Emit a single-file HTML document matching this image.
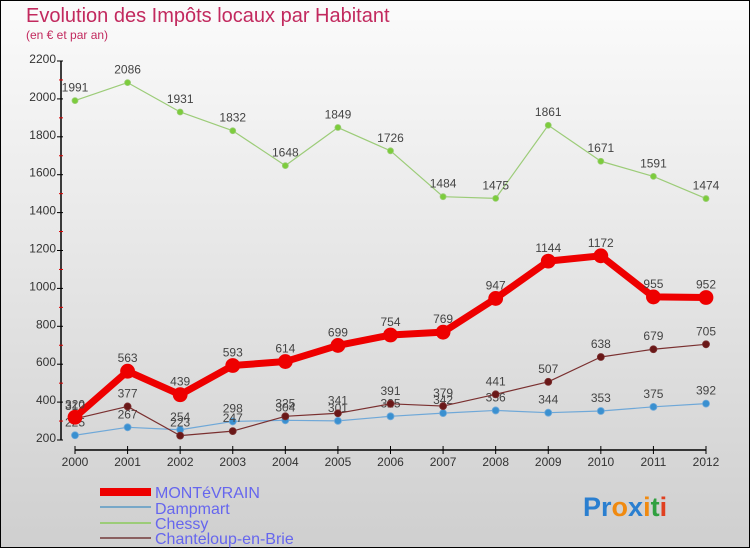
<!DOCTYPE html>
<html><head><meta charset="utf-8"><style>
body{margin:0;width:750px;height:550px;overflow:hidden;font-family:"Liberation Sans",sans-serif}
svg text{font-family:"Liberation Sans",sans-serif}
</style></head><body>
<svg id="c" width="750" height="550">
<defs><linearGradient id="bg" x1="0" y1="0" x2="0" y2="1"><stop offset="0" stop-color="#fbfbfb"/><stop offset="1" stop-color="#cfcfcf"/></linearGradient></defs>
<rect x="0.5" y="0.5" width="749" height="547" fill="url(#bg)" stroke="#000"/>
<text x="26" y="22" font-size="20" fill="#c2295e">Evolution des Impôts locaux par Habitant</text>
<text x="26" y="39" font-size="12" fill="#c2295e">(en € et par an)</text>
<g id="axes"></g><g id="series"></g>
<g>
<rect x="100" y="488" width="51" height="8" fill="#e00"/>
<rect x="100" y="506" width="51" height="2" fill="#78a8c8"/>
<rect x="100" y="522" width="51" height="2" fill="#9ccc78"/>
<rect x="100" y="537" width="51" height="2" fill="#8a6060"/>
<text x="155" y="498" font-size="16" fill="#6666ee">MONTéVRAIN</text>
<text x="155" y="514" font-size="16" fill="#6666ee">Dampmart</text>
<text x="155" y="529" font-size="16" fill="#6666ee">Chessy</text>
<text x="155" y="544" font-size="16" fill="#6666ee">Chanteloup-en-Brie</text>
</g>
<g font-size="27" font-weight="bold">
<text x="583" y="516"><tspan fill="#2a7fd0">Pr</tspan><tspan fill="#f08a10">o</tspan><tspan fill="#2a7fd0">x</tspan><tspan fill="#f08a10">i</tspan><tspan fill="#30a040">t</tspan><tspan fill="#e04020">i</tspan></text>
</g>
</svg>
<script>
const years=[2000,2001,2002,2003,2004,2005,2006,2007,2008,2009,2010,2011,2012];
const yTicks=[200,400,600,800,1000,1200,1400,1600,1800,2000,2200];
const montevrain=[320,563,439,593,614,699,754,769,947,1144,1172,955,952];
const dampmart=[225,267,254,298,304,301,325,342,356,344,353,375,392];
const chessy=[1991,2086,1931,1832,1648,1849,1726,1484,1475,1861,1671,1591,1474];
const chanteloup=[312,377,223,247,325,341,391,379,441,507,638,679,705];
const NS="http://www.w3.org/2000/svg";
const X=i=>75+i*(706-75)/12;
const Y=v=>440-(v-200)*(440-61)/2000;
function mk(t,a,p){const e=document.createElementNS(NS,t);for(const k in a)e.setAttribute(k,a[k]);p.appendChild(e);return e;}
const ax=document.getElementById('axes');
let yl=mk('line',{x1:61,y1:61,x2:61,y2:440,stroke:'#000','stroke-width':1.5},ax);


yTicks.forEach(v=>{
 mk('line',{x1:57,y1:Y(v),x2:63,y2:Y(v),stroke:'#000'},ax);
 if(v<2200) mk('line',{x1:59,y1:Y(v+100),x2:63,y2:Y(v+100),stroke:'#d00'},ax);
 const t=mk('text',{x:56,y:Y(v)+2,'font-size':12,fill:'#333','text-anchor':'end'},ax);t.textContent=v;
 
 
});
let xl=mk('line',{x1:75,y1:450,x2:706,y2:450,stroke:'#000','stroke-width':1.5},ax);


years.forEach((y,i)=>{
 mk('line',{x1:X(i),y1:446,x2:X(i),y2:454,stroke:'#000'},ax);
 const t=mk('text',{x:X(i),y:466,'font-size':12,fill:'#333','text-anchor':'middle'},ax);t.textContent=y;
 
 
});
const sg=document.getElementById('series');
function draw(name,data,color,dot,w,r){
 const g=mk('g',{},sg);
 
 
 mk('polyline',{points:data.map((v,i)=>X(i)+','+Y(v)).join(' '),fill:'none',stroke:color,'stroke-width':w,'stroke-linejoin':'round'},g);
 data.forEach((v,i)=>{
  const c=mk('circle',{cx:X(i),cy:Y(v),r:r,fill:dot,stroke:color,'stroke-width':0.8},g);
  
  
  const t=mk('text',{x:X(i),y:Y(v)-9,'font-size':12,fill:'#444','text-anchor':'middle'},g);t.textContent=v;
  
  
 });
}
draw('chessy',chessy,'#9ccc78','#7ccc3c',1.2,3);
draw('dampmart',dampmart,'#6fa8d8','#3a90d0',1.2,3.5);
draw('chanteloup',chanteloup,'#7a3030','#6a1818',1.2,3.5);
draw('montevrain',montevrain,'#ee0000','#ee0000',7,7);
</script>
</body></html>
